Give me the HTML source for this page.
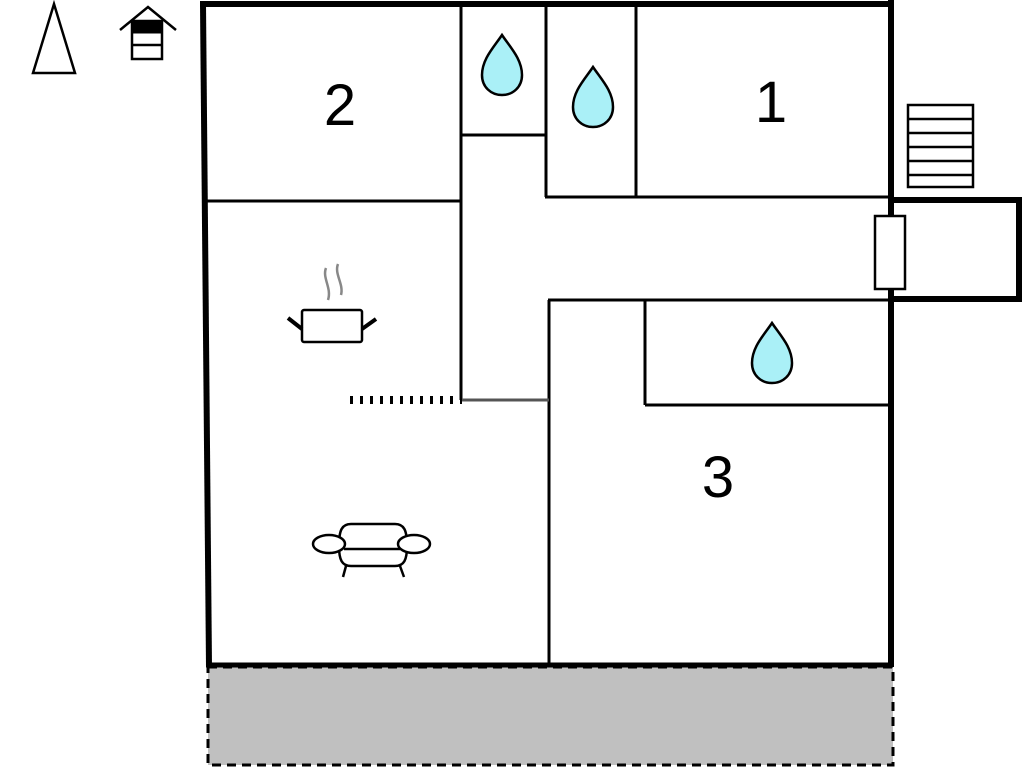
<!DOCTYPE html>
<html><head><style>html,body{margin:0;padding:0;background:#fff}svg{display:block}</style></head>
<body>
<svg width="1024" height="768" viewBox="0 0 1024 768" xmlns="http://www.w3.org/2000/svg">
<defs>
<path id="drop" d="M0,-30 C8,-18 20,-6 20,10 C20,22 11,30 0,30 C-11,30 -20,22 -20,10 C-20,-6 -8,-18 0,-30 Z" fill="#aaf0f7" stroke="#000" stroke-width="2.5"/>
</defs>
<rect x="208" y="667" width="685" height="98" fill="#c0c0c0" stroke="#000" stroke-width="3" stroke-dasharray="9,6"/>
<g stroke="#000" fill="none">
<line x1="203" y1="4" x2="209" y2="667" stroke-width="6"/>
<line x1="200" y1="4" x2="893" y2="4" stroke-width="6"/>
<line x1="891" y1="0" x2="891" y2="667" stroke-width="6"/>
<line x1="206" y1="665" x2="893" y2="665" stroke-width="5"/>
<polyline points="891,200 1019,200 1019,299 891,299" stroke-width="6"/>
<line x1="206" y1="201" x2="460" y2="201" stroke-width="3"/>
<line x1="461" y1="4" x2="461" y2="400" stroke-width="3"/>
<line x1="461" y1="135" x2="545" y2="135" stroke-width="3"/>
<line x1="546" y1="4" x2="546" y2="197" stroke-width="3"/>
<line x1="636" y1="4" x2="636" y2="197" stroke-width="3"/>
<line x1="545" y1="197" x2="890" y2="197" stroke-width="3"/>
<line x1="548" y1="300" x2="890" y2="300" stroke-width="3"/>
<line x1="549" y1="300" x2="549" y2="663" stroke-width="3"/>
<line x1="645" y1="300" x2="645" y2="405" stroke-width="3"/>
<line x1="645" y1="405" x2="888" y2="405" stroke-width="3"/>
<line x1="461" y1="400" x2="549" y2="400" stroke-width="3" stroke="#555"/>
<line x1="350" y1="400" x2="462" y2="400" stroke-width="8" stroke-dasharray="3,7"/>
<rect x="875" y="216" width="30" height="73" fill="#fff" stroke-width="2.5"/>
<rect x="908" y="105" width="65" height="82" stroke-width="2.5"/>
<line x1="908" y1="119" x2="973" y2="119" stroke-width="2.5"/>
<line x1="908" y1="133" x2="973" y2="133" stroke-width="2.5"/>
<line x1="908" y1="147" x2="973" y2="147" stroke-width="2.5"/>
<line x1="908" y1="161" x2="973" y2="161" stroke-width="2.5"/>
<line x1="908" y1="175" x2="973" y2="175" stroke-width="2.5"/>
<polygon points="54,4 33,73 75,73" stroke-width="2.5"/>
<polyline points="120,30 148,7 176,30" stroke-width="2.5"/>
<rect x="132" y="21" width="30" height="38" stroke-width="2.5"/>
<rect x="132" y="21" width="30" height="12" fill="#000"/>
<line x1="132" y1="45" x2="162" y2="45" stroke-width="2.5"/>
<rect x="302" y="310" width="60" height="32" rx="2" stroke-width="2.5"/>
<line x1="288" y1="318" x2="302" y2="329" stroke-width="4"/>
<line x1="362" y1="329" x2="376" y2="319" stroke-width="4"/>
<path d="M326,268 C322,278 332,288 328,300" stroke="#888" stroke-width="2.5"/>
<path d="M338,264 C334,274 344,284 341,295" stroke="#888" stroke-width="2.5"/>
<path d="M339,546 C339,530 342,524 351,524 L395,524 C404,524 407,530 407,546" stroke-width="2.5"/>
<path d="M339,546 C339,560 342,566 351,566 L395,566 C404,566 407,560 407,546" stroke-width="2.5"/>
<ellipse cx="329" cy="544" rx="16" ry="9" fill="#fff" stroke-width="2.5"/>
<ellipse cx="414" cy="544" rx="16" ry="9" fill="#fff" stroke-width="2.5"/>
<line x1="344" y1="549" x2="400" y2="549" stroke-width="2.5"/>
<line x1="346" y1="566" x2="343" y2="577" stroke-width="2.5"/>
<line x1="400" y1="566" x2="404" y2="577" stroke-width="2.5"/>
</g>
<use href="#drop" transform="translate(502,65)"/>
<use href="#drop" transform="translate(593,97)"/>
<use href="#drop" transform="translate(772,353)"/>
<g font-family="Liberation Sans, sans-serif" font-size="58" fill="#000" text-anchor="middle">
<text x="340" y="125">2</text>
<text x="771" y="122">1</text>
<text x="718" y="497">3</text>
</g>
</svg>
</body></html>
